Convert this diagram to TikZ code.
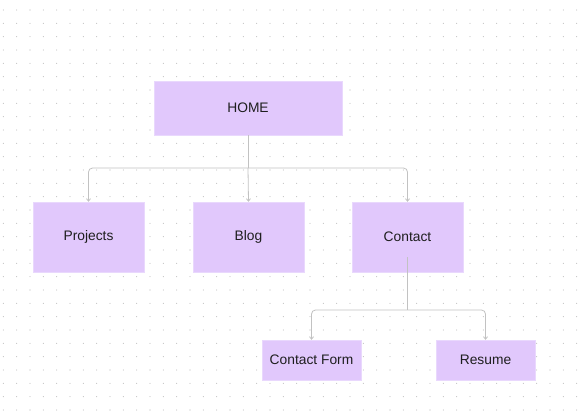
\documentclass[tikz,border=0pt]{standalone}
\usepackage{fontspec}
\setmainfont{Liberation Sans}
\usetikzlibrary{arrows.meta}
\definecolor{boxfill}{HTML}{E1C8FC}
\definecolor{boxline}{HTML}{E9D8FD}
\definecolor{conncol}{HTML}{C2C2C2}
\definecolor{dotcol}{HTML}{B8B8B8}
\definecolor{txt}{HTML}{1E1E1E}
\tikzset{
  pagebox/.style={fill=boxfill, draw=boxline, line width=0.4pt, inner sep=0pt, text=txt, font=\fontsize{13.8}{16}\selectfont},
  conn/.style={draw=conncol, line width=0.8pt, rounded corners=4pt},
  tip/.style={-{Straight Barb[length=2.5pt,width=4pt]}}
}
\begin{document}
\begin{tikzpicture}[x=1pt,y=-1pt]
\useasboundingbox (0,0) rectangle (586,416);
\fill[white] (0,0) rectangle (586,416);
\foreach \i in {0,...,43}{
  \foreach \j in {0,...,30}{
    \fill[dotcol] (3.33+13.333*\i,10+13.333*\j) circle (0.55pt);
  }
}
\node[pagebox, minimum width=188pt, minimum height=54pt] (home) at (248,108) {HOME};
\node[pagebox, minimum width=111pt, minimum height=70pt] (proj) at (88.5,237) {Projects};
\node[pagebox, minimum width=111pt, minimum height=70pt] (blog) at (248.5,237) {Blog};
\node[pagebox, minimum width=111pt, minimum height=70pt] (contact) at (407.5,237) {Contact};
\node[pagebox, minimum width=99pt, minimum height=40pt] (cform) at (311.5,360) {Contact Form};
\node[pagebox, minimum width=99pt, minimum height=40pt] (resume) at (485.5,360) {Resume};
\coordinate (hj) at (248,168);
\coordinate (cs) at ([yshift=-20pt]contact.center);
\coordinate (cj) at (407.5,310);
\draw[conn] (home.south) -- (hj);
\draw[conn,tip] (hj) -| (proj.north);
\draw[conn,tip] (hj) -- (blog.north);
\draw[conn,tip] (hj) -| (contact.north);
\draw[conn] (cs) -- (cj);
\draw[conn,tip] (cj) -| (cform.north);
\draw[conn,tip] (cj) -| (resume.north);
\end{tikzpicture}
\end{document}
